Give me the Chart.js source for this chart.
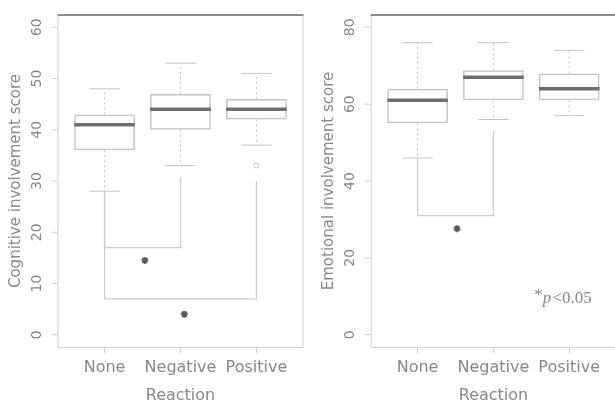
<!DOCTYPE html>
<html>
<head>
<meta charset="utf-8">
<script src="https://cdn.jsdelivr.net/npm/chart.js@4"></script>
<style>
  html, body { margin: 0; padding: 0; background: #fff; overflow: hidden; }
  #wrap { position: relative; width: 615px; height: 403px; overflow: hidden; }
  canvas { position: absolute; top: 0; }
  #cog { left: 0; }
  #emo { left: 310px; }
</style>
</head>
<body>
<div id="wrap">
  <canvas id="cog" width="310" height="403"></canvas>
  <canvas id="emo" width="312" height="403"></canvas>
</div>
<script>
// categorías del eje x
const categories = ['None', 'Negative', 'Positive'];

// Cognitive involvement (panel izquierdo)
const cogLow = [28, 33, 37];
const cogQ1 = [36, 40, 42];
const cogMedian = [41, 44, 44];
const cogQ3 = [43, 47, 46];
const cogHigh = [48, 53, 51];
const cogOutliers = [[], [], [33]];
const cogTicks = [0, 10, 20, 30, 40, 50, 60];
// corchetes de significancia
const cogBracketFrom = [1, 1];
const cogBracketTo = [2, 3];
const cogBracketLevel = [17, 7];
const cogBracketStartFrom = [28, 28];
const cogBracketStartTo = [30.7, 30];
const cogStarX = [1.53, 2.05];
const cogStarY = [14.5, 4];

// Emotional involvement (panel derecho)
const emoLow = [46, 56, 57];
const emoQ1 = [55, 61, 61];
const emoMedian = [61, 67, 64];
const emoQ3 = [64, 68.8, 68];
const emoHigh = [76, 76, 74];
const emoOutliers = [[], [], []];
const emoTicks = [0, 20, 40, 60, 80];
const emoBracketFrom = [1];
const emoBracketTo = [2];
const emoBracketLevel = [31];
const emoBracketStartFrom = [46];
const emoBracketStartTo = [53];
const emoStarX = [1.52];
const emoStarY = [27.6];

const textColor = '#888888';
const lightLine = '#c4c4c4';
const medianColor = '#6e6e6e';
const font = 'DejaVu Sans';

// dibuja bigotes, medianas, marco, ticks del eje y y la nota
const boxExtras = {
    id: 'boxExtras',
    afterDatasetsDraw(chart, args, opts) {
        const ctx = chart.ctx;
        const xs = chart.scales.x;
        const ys = chart.scales.y;
        const area = chart.chartArea;
        const boxes = chart.getDatasetMeta(0).data;

        ctx.save();
        for (let i = 0; i < categories.length; i++) {
            const cx = xs.getPixelForValue(i + 1);
            const half = boxes[i].width / 2;
            const cap = half / 2;

            // bigotes punteados
            ctx.strokeStyle = lightLine;
            ctx.lineWidth = 1;
            ctx.setLineDash([2, 3]);
            ctx.beginPath();
            ctx.moveTo(cx, ys.getPixelForValue(opts.q3[i]));
            ctx.lineTo(cx, ys.getPixelForValue(opts.high[i]));
            ctx.moveTo(cx, ys.getPixelForValue(opts.q1[i]));
            ctx.lineTo(cx, ys.getPixelForValue(opts.low[i]));
            ctx.stroke();
            ctx.setLineDash([]);

            // topes
            ctx.beginPath();
            ctx.moveTo(cx - cap, ys.getPixelForValue(opts.high[i]));
            ctx.lineTo(cx + cap, ys.getPixelForValue(opts.high[i]));
            ctx.moveTo(cx - cap, ys.getPixelForValue(opts.low[i]));
            ctx.lineTo(cx + cap, ys.getPixelForValue(opts.low[i]));
            ctx.stroke();

            // mediana
            ctx.strokeStyle = medianColor;
            ctx.lineWidth = 3.5;
            ctx.beginPath();
            ctx.moveTo(cx - half, ys.getPixelForValue(opts.median[i]));
            ctx.lineTo(cx + half, ys.getPixelForValue(opts.median[i]));
            ctx.stroke();
        }

        // marco del gráfico
        ctx.strokeStyle = '#d0d0d0';
        ctx.lineWidth = 1;
        ctx.beginPath();
        ctx.moveTo(area.left + 0.5, area.top);
        ctx.lineTo(area.left + 0.5, area.bottom + 0.5);
        ctx.lineTo(area.right - 0.5, area.bottom + 0.5);
        ctx.lineTo(area.right - 0.5, area.top);
        ctx.stroke();
        ctx.strokeStyle = '#8c8c8c';
        ctx.lineWidth = 2;
        ctx.beginPath();
        ctx.moveTo(area.left, area.top);
        ctx.lineTo(area.right, area.top);
        ctx.stroke();

        // ticks del eje y (etiquetas giradas como en R)
        ctx.strokeStyle = '#d0d0d0';
        ctx.lineWidth = 1;
        ctx.fillStyle = textColor;
        ctx.font = '14px "' + font + '"';
        ctx.textAlign = 'center';
        ctx.textBaseline = 'middle';
        for (const t of opts.ticks) {
            const y = ys.getPixelForValue(t);
            ctx.beginPath();
            ctx.moveTo(area.left - 6, y);
            ctx.lineTo(area.left, y);
            ctx.stroke();
            ctx.save();
            ctx.translate(area.left - 20, y);
            ctx.rotate(-Math.PI / 2);
            ctx.fillText(String(t), 0, 0);
            ctx.restore();
        }

        // nota *p<0.05
        if (opts.note) {
            let x = xs.getPixelForValue(opts.note.x);
            const y = ys.getPixelForValue(opts.note.y);
            ctx.textAlign = 'left';
            ctx.fillStyle = textColor;
            ctx.font = '17px "Liberation Serif"';
            ctx.fillText('*', x, y - 3);
            x += ctx.measureText('*').width;
            ctx.font = 'italic 17px "Liberation Serif"';
            ctx.fillText('p', x, y);
            x += ctx.measureText('p').width + 1;
            ctx.font = '17px "Liberation Serif"';
            ctx.fillText('<0.05', x, y);
        }
        ctx.restore();
    }
};

function makePanel(canvasId, d) {
    const datasets = [{
        type: 'bar',
        data: categories.map((c, i) => ({ x: i + 1, y: [d.q1[i], d.q3[i]] })),
        backgroundColor: 'rgba(255,255,255,0)',
        borderColor: lightLine,
        borderWidth: 1.5,
        borderSkipped: false,
        barPercentage: 0.8,
        categoryPercentage: 1
    }];

    // corchetes como líneas
    for (let b = 0; b < d.bFrom.length; b++) {
        datasets.push({
            type: 'line',
            data: [
                { x: d.bFrom[b], y: d.bStartFrom[b] },
                { x: d.bFrom[b], y: d.bLevel[b] },
                { x: d.bTo[b], y: d.bLevel[b] },
                { x: d.bTo[b], y: d.bStartTo[b] }
            ],
            borderColor: '#cdcdcd',
            borderWidth: 1.3,
            pointRadius: 0,
            tension: 0,
            fill: false
        });
    }

    // asteriscos
    datasets.push({
        type: 'scatter',
        data: d.starX.map((x, i) => ({ x: x, y: d.starY[i] })),
        pointStyle: 'star',
        pointRadius: 3.5,
        borderColor: '#5a5a5a',
        borderWidth: 1.8
    });

    // valores atípicos
    const outPts = [];
    d.outliers.forEach((arr, i) => arr.forEach(v => outPts.push({ x: i + 1, y: v })));
    datasets.push({
        type: 'scatter',
        data: outPts,
        pointStyle: 'circle',
        pointRadius: 2.5,
        borderColor: lightLine,
        backgroundColor: 'rgba(255,255,255,0)',
        borderWidth: 1
    });

    return new Chart(document.getElementById(canvasId), {
        type: 'bar',
        data: { datasets: datasets },
        options: {
            responsive: false,
            animation: false,
            layout: { padding: { left: 0, right: d.padRight, top: 15, bottom: 0 } },
            plugins: {
                legend: { display: false },
                tooltip: { enabled: false },
                boxExtras: {
                    low: d.low, q1: d.q1, median: d.median, q3: d.q3, high: d.high,
                    ticks: d.ticks, note: d.note
                }
            },
            scales: {
                x: {
                    type: 'linear',
                    min: 0.38,
                    max: 3.62,
                    offset: false,
                    afterBuildTicks: s => { s.ticks = categories.map((c, i) => ({ value: i + 1 })); },
                    afterFit: s => { s.height = 56; },
                    ticks: {
                        callback: v => categories[Math.round(v) - 1],
                        color: textColor,
                        font: { family: font, size: 16 },
                        padding: 5,
                        maxRotation: 0,
                        autoSkip: false
                    },
                    grid: { offset: false, drawOnChartArea: false, drawTicks: true, tickLength: 6, color: '#d0d0d0' },
                    border: { display: false },
                    title: {
                        display: true,
                        text: 'Reaction',
                        color: textColor,
                        font: { family: font, size: 16 },
                        padding: { top: 0, bottom: -2 }
                    }
                },
                y: {
                    min: d.yMin,
                    max: d.yMax,
                    afterFit: s => { s.width = d.leftWidth; },
                    ticks: { display: false },
                    grid: { display: false },
                    border: { display: false },
                    title: {
                        display: true,
                        text: d.title,
                        color: textColor,
                        font: { family: font, size: 15 },
                        padding: { top: d.titlePad, bottom: 0 }
                    }
                }
            }
        },
        plugins: [boxExtras]
    });
}

makePanel('cog', {
    low: cogLow, q1: cogQ1, median: cogMedian, q3: cogQ3, high: cogHigh,
    outliers: cogOutliers, ticks: cogTicks,
    bFrom: cogBracketFrom, bTo: cogBracketTo, bLevel: cogBracketLevel,
    bStartFrom: cogBracketStartFrom, bStartTo: cogBracketStartTo,
    starX: cogStarX, starY: cogStarY,
    yMin: -2.4, yMax: 62.4,
    title: 'Cognitive involvement score',
    leftWidth: 57.5, padRight: 6.5, titlePad: 7,
    note: null
});

makePanel('emo', {
    low: emoLow, q1: emoQ1, median: emoMedian, q3: emoQ3, high: emoHigh,
    outliers: emoOutliers, ticks: emoTicks,
    bFrom: emoBracketFrom, bTo: emoBracketTo, bLevel: emoBracketLevel,
    bStartFrom: emoBracketStartFrom, bStartTo: emoBracketStartTo,
    starX: emoStarX, starY: emoStarY,
    yMin: -3.2, yMax: 83.2,
    title: 'Emotional involvement score',
    leftWidth: 60.6, padRight: 3.5, titlePad: 10,
    note: { x: 2.54, y: 9.4 }
});
</script>
</body>
</html>
